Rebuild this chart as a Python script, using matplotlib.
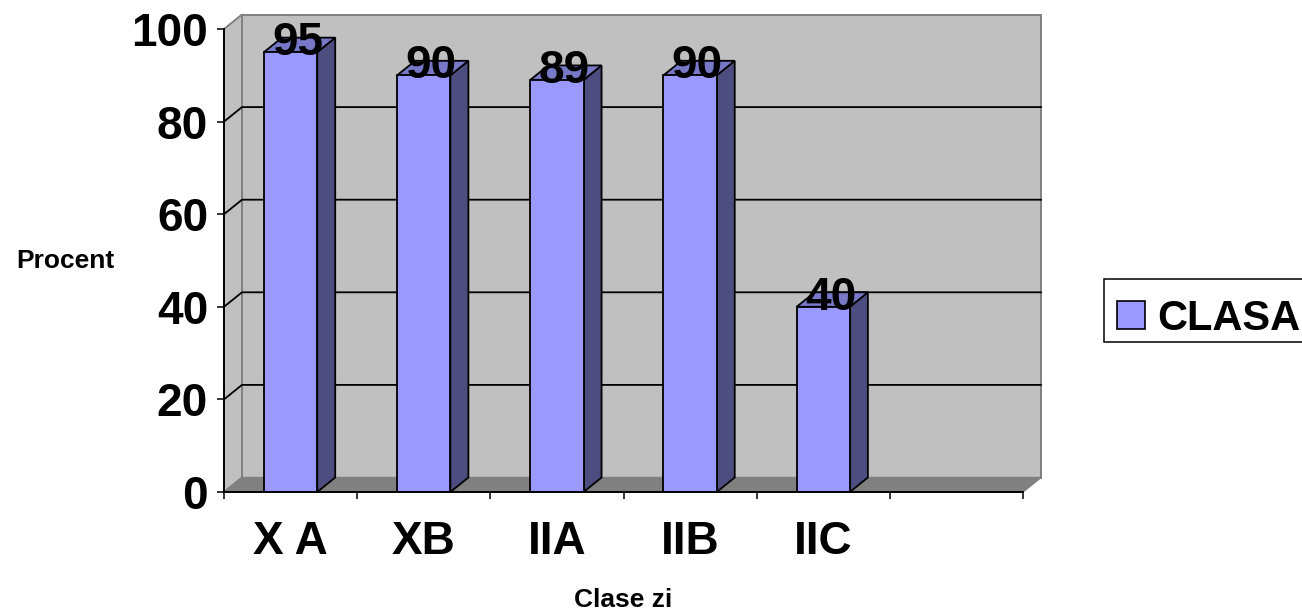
import matplotlib
matplotlib.use("Agg")
import matplotlib.pyplot as plt
from matplotlib.patches import Polygon, Patch, Rectangle

categories = ["X A", "XB", "IIA", "IIB", "IIC", ""]
values = [95, 90, 89, 90, 40]
value_labels = ["95", "90", "89", "90", "40"]
y_ticks = [0, 20, 40, 60, 80, 100]
series_name = "CLASA"
x_label = "Clase zi"
y_label = "Procent"

W, H = 1302, 615
FS = 33
plt.rcParams["font.family"] = ["Liberation Sans", "DejaVu Sans"]
plt.rcParams["font.weight"] = "bold"
fig = plt.figure(figsize=(W / 100, H / 100), dpi=100, facecolor="white")
L, R, T, B = 224, 1023, 29, 492
ax = fig.add_axes([L / W, 1 - B / H, (R - L) / W, (B - T) / H])
n = len(categories)
ax.set_xlim(0, n)
ax.set_ylim(0, 100)
ax.patch.set_visible(False)
for s in ("top", "right"):
    ax.spines[s].set_visible(False)
for s in ("left", "bottom"):
    ax.spines[s].set_linewidth(1.4)
    ax.spines[s].set_zorder(6)

dx = 18 / ((R - L) / n)
dy = 14.5 / ((B - T) / 100)

def poly(pts, fc, ec, lw=1.3, z=1):
    ax.add_patch(Polygon(pts, closed=True, facecolor=fc, edgecolor=ec, linewidth=lw,
                         clip_on=False, zorder=z, joinstyle="miter"))

# walls and floor
poly([(dx, dy), (n + dx, dy), (n + dx, 100 + dy), (dx, 100 + dy)], "#c0c0c0", "#808080", 1.4, 1)
poly([(0, 0), (dx, dy), (dx, 100 + dy), (0, 100)], "#c0c0c0", "#808080", 1.4, 1)
poly([(0, 0), (n, 0), (n + dx, dy), (dx, dy)], "#808080", "#808080", 1.0, 1)

# gridlines
for v in y_ticks[1:-1]:
    ax.plot([0, dx, n + dx], [v, v + dy, v + dy], color="black", lw=1.3, zorder=2, clip_on=False)

# bars
bw = 0.4
for i, v in enumerate(values):
    x0 = i + 0.5 - bw / 2
    x1 = x0 + bw
    ax.bar(i + 0.5, v, width=bw, color="#9999ff", edgecolor="black", linewidth=1.3, zorder=4, clip_on=False)
    poly([(x1, 0), (x1 + dx, dy), (x1 + dx, v + dy), (x1, v)], "#4d4d80", "black", 1.3, 3)
    poly([(x0, v), (x1, v), (x1 + dx, v + dy), (x0 + dx, v + dy)], "#7878c8", "black", 1.3, 3)
    ax.text(i + 0.5 + 0.054, v - 0.6, value_labels[i], ha="center", va="baseline",
            fontsize=FS, fontweight="bold", color="black", zorder=7)

# ticks
ax.set_yticks(y_ticks)
ax.set_xticks(range(n + 1))
ax.set_xticklabels([])
ax.set_xticks([i + 0.5 for i in range(n)], minor=True)
ax.set_xticklabels(categories, minor=True, fontsize=FS, fontweight="bold")
ax.tick_params(axis="x", which="major", length=5, width=1.1, color="black")
ax.tick_params(axis="x", which="minor", length=0, pad=20)
ax.tick_params(axis="y", length=5, width=1.1, labelsize=FS, pad=6.5)

fig.text(65 / W, 1 - 261 / H, y_label, ha="center", va="center", fontsize=19, fontweight="bold")
fig.text(623 / W, 1 - 600 / H, x_label, ha="center", va="center", fontsize=19, fontweight="bold")

# legend frame runs off the right edge of the figure, as in the source
fig.add_artist(Rectangle((1104 / W, 1 - 342 / H), 260 / W, 63 / H, transform=fig.transFigure,
                         facecolor="white", edgecolor="black", linewidth=1.1))
LFS = 30
leg = fig.legend(handles=[Patch(facecolor="#9999ff", edgecolor="black", linewidth=1.2, label=series_name)],
                 loc="center left", bbox_to_anchor=(1117 / W, 1 - 318.5 / H), fontsize=LFS,
                 frameon=False, handlelength=0.672, handleheight=0.672, handletextpad=0.29,
                 borderpad=0, borderaxespad=0)

fig.savefig("out.png", dpi=100, facecolor="white")
